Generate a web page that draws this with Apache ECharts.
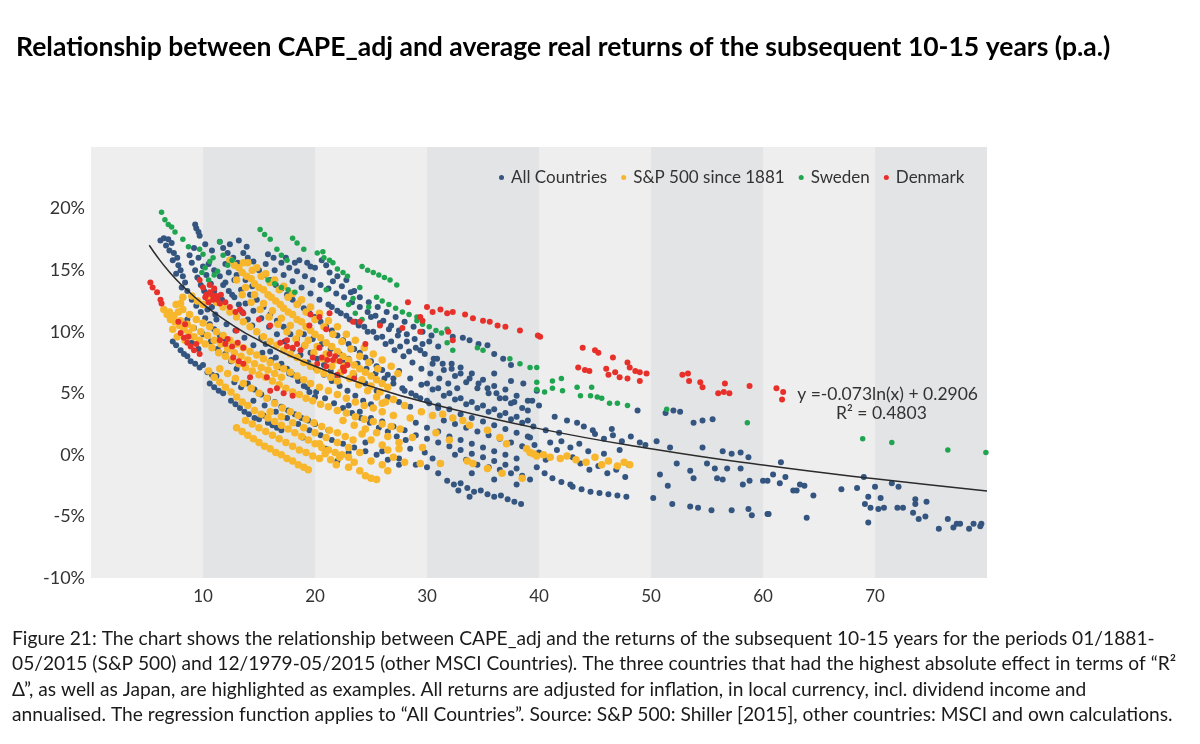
<!DOCTYPE html>
<html lang="en">
<head>
    <meta charset="UTF-8">
    <title>CAPE_adj vs. real returns</title>
    <style>
        html, body { margin: 0; padding: 0; background: #fff; }
        #main { width: 1200px; height: 744px; }
    </style>
</head>
<body>
<div id="main"></div>
<script src="https://cdn.jsdelivr.net/npm/echarts@6/dist/echarts.min.js"></script>
<script>
    // CAPE_adj (x) vs. average real return p.a. in % (y)
    const allCountries = [
        [6.2,17.4],[6.5,17.6],[6.9,17.5],[7.2,17.2],[6.7,17.0],[7.0,16.6],[7.4,16.4],[7.7,16.0],[7.3,15.8],[7.8,15.4],[8.0,15.0],[7.6,14.7],[8.2,14.5],[8.4,14.0],[8.1,13.6],[8.6,13.3],
        [9.3,18.7],[9.4,18.4],[9.6,18.1],[9.7,17.8],
        [7.3,9.2],[7.6,8.9],[8.0,8.5],[8.3,8.2],[8.6,8.0],[8.9,7.6],[9.3,7.4],[9.7,7.1],[10.0,7.3],[10.4,6.7],[10.8,6.5],[11.2,6.4],[10.6,5.8],[11.0,5.5],[11.4,5.2],[11.8,5.0],[8.4,9.5],[9.0,9.1],[9.6,8.6],
        [13.3,3.8],[13.7,3.5],[14.1,3.3],[14.6,3.0],[15.0,2.9],[15.4,3.2],[15.8,2.6],[16.2,2.4],[16.6,2.2],[17.0,2.0],[18.9,1.4],[12.5,4.4],[12.9,4.1],
        [8.8,16.2],[9.0,15.6],[9.3,15.0],[9.5,14.4],[9.8,13.8],[10.1,13.3],[10.4,12.7],[10.8,12.0],[11.1,11.4],[9.0,12.6],[9.4,12.1],[9.8,11.6],[10.2,11.1],[10.6,10.6],[11.0,10.2],[11.5,9.7],[11.9,9.2],
        [8.6,11.0],[9.2,10.3],[10.0,9.8],[10.7,9.2],[11.3,8.6],[12.0,8.2],[12.5,7.6],[13.0,7.0],
        [10.5,15.5],[11.0,15.0],[11.5,14.5],[12.0,14.0],[12.3,13.3],[12.8,12.8],[13.2,12.2],[11.8,16.8],[12.2,16.4],[12.7,16.0],[13.1,15.6],[13.6,16.4],[14.0,16.0],[14.5,15.7],
        [11.5,17.3],[12.4,17.1],[13.2,17.4],[13.9,16.9],[12.0,15.5],[13.0,14.6],[13.8,14.2],[14.4,13.7],[12.6,13.0],[11.7,12.6],
        [9.2,16.8],[9.6,16.0],[10.0,15.3],[10.3,14.6],[10.7,13.9],[11.0,13.3],[11.4,12.8],[11.8,13.8],[12.3,14.8],[12.8,14.2],[13.4,13.4],[10.2,17.1],[10.8,16.6],
        [13.5,11.6],[14.0,11.0],[14.4,10.5],[14.8,10.0],[15.2,9.5],[15.6,9.0],[16.0,8.4],[16.5,7.9],[17.0,7.4],[17.5,7.0],[18.0,6.5],[18.5,6.0],[19.0,5.6],[19.5,5.1],[20.0,4.7],
        [13.8,12.3],[14.5,11.7],[15.2,11.1],[15.9,10.4],[16.6,9.8],[17.3,9.2],[18.0,8.6],[18.7,8.1],[19.4,7.5],[20.1,7.0],[20.8,6.5],[21.5,6.0],[22.2,5.6],[22.9,5.2],[23.6,4.8],[24.3,4.4],[25.0,4.1],
        [10.4,11.8],[11.2,11.0],[12.1,10.6],[12.9,10.1],[13.7,9.5],[14.5,8.9],[15.3,8.3],[16.1,7.7],[16.9,7.1],[17.7,6.6],[18.5,6.1],[19.3,5.5],[20.1,5.1],[20.9,4.6],[21.7,4.2],[22.5,3.8],[23.3,3.4],[24.1,3.0],[24.9,2.6],[25.7,2.2],[26.5,1.9],[27.3,1.5],[28.1,1.2],
        [14.2,13.0],[14.8,12.6],[15.4,12.0],[16.0,11.4],[16.6,10.9],[17.2,10.4],[17.8,9.8],[18.4,9.4],[19.0,8.8],[19.6,8.3],[20.2,7.8],[20.8,7.3],[21.4,6.8],[22.0,6.3],
        [19.0,9.8],[19.8,9.4],[20.6,9.0],[21.4,8.6],[22.2,8.2],[23.0,7.8],[23.8,7.4],[24.6,7.0],[25.4,6.6],[26.2,6.2],[27.0,5.8],[27.8,5.4],[28.6,5.0],[29.4,4.6],[30.2,4.2],[31.0,3.8],
        [15.0,15.0],[15.5,14.6],[16.0,14.2],[16.5,13.8],[17.0,13.5],[17.5,13.0],[18.0,12.6],[18.5,12.3],[19.0,11.9],[19.5,11.5],[20.0,11.2],[20.5,10.8],[21.0,10.4],[21.5,10.1],[22.0,9.7],[22.5,9.3],[23.0,9.0],[23.5,8.6],[24.0,8.3],[24.5,7.9],[25.0,7.6],[25.5,7.2],[26.0,6.9],[26.5,6.5],[27.0,6.2],
        [15.6,15.5],[16.4,15.0],[17.2,14.6],[18.0,14.1],[18.8,13.6],[19.6,13.1],[20.4,12.6],[21.2,12.2],[22.0,11.7],[22.8,11.3],[23.6,10.8],[24.4,10.4],[25.2,10.0],[26.0,9.6],[26.8,9.2],[27.6,8.8],[28.4,8.4],
        [16.3,16.0],[17.0,15.6],[17.7,15.2],[18.4,14.9],[19.1,14.5],[19.8,14.2],[20.5,13.8],[21.2,13.5],[21.9,13.1],[22.6,12.8],[23.3,12.4],[24.0,12.0],[24.7,11.6],[25.4,11.3],[26.1,10.9],[26.8,10.5],[27.5,10.1],[28.2,9.8],[28.9,9.4],[29.6,9.0],
        [15.8,16.3],[17.4,16.0],[18.2,15.6],[19.6,15.3],[20.6,15.8],[21.3,14.8],[22.0,14.5],[22.8,14.2],[21.6,14.1],[23.5,13.3],
        [18.6,15.8],[19.3,15.6],[20.0,15.2],[21.0,15.4],[22.4,13.7],[23.2,13.2],[24.0,12.8],[24.8,12.4],[25.6,12.0],[26.4,11.6],[27.2,11.2],[28.0,10.8],[28.8,10.4],[29.6,10.0],[30.4,9.7],
        [25.0,11.2],[25.8,10.7],[26.6,10.2],[27.4,9.7],[28.2,9.2],[29.0,8.7],[29.8,8.2],[30.6,7.8],[31.4,7.4],[32.2,7.0],[33.0,6.6],[33.8,6.2],[34.6,5.8],[35.4,5.4],[36.2,5.0],[37.0,4.6],[37.8,4.3],
        [12.8,5.9],[13.4,5.5],[14.0,5.8],[14.6,5.3],[15.2,4.9],[15.8,4.6],[16.4,4.3],[17.0,3.9],[17.6,3.6],[18.2,3.3],[18.8,3.0],[19.4,2.8],[20.0,2.5],[20.6,2.3],[21.2,2.0],
        [14.5,4.4],[15.5,4.0],[16.5,3.5],[17.5,3.0],[18.5,2.5],[19.5,2.0],[20.5,1.6],[21.5,1.2],[22.5,0.9],[23.5,0.6],[24.5,0.3],[25.5,0.0],[26.5,-0.4],[27.5,-0.8],
        [21.5,12.0],[22.3,11.5],[23.1,11.0],[23.9,10.5],[24.7,10.0],[25.5,9.5],[26.3,9.0],[27.1,8.5],[27.9,8.0],[28.7,7.5],[29.5,7.0],[30.3,6.6],[31.1,6.2],[31.9,5.8],[32.7,5.4],
        [22.5,7.5],[23.5,6.5],[24.5,5.8],[25.5,5.2],[26.5,4.7],[27.5,4.3],[28.5,3.9],[29.5,3.5],[30.5,3.2],[31.5,2.8],[32.5,2.5],[33.5,2.2],[34.5,1.9],[35.5,1.6],[36.5,1.3],[37.5,1.0],[38.5,0.7],
        [23.0,4.0],[24.0,3.5],[25.0,3.0],[26.0,2.7],[27.0,2.3],[28.0,2.0],[29.0,1.6],[30.0,1.3],[31.0,1.0],[32.0,0.7],[33.0,0.4],[34.0,0.1],[35.0,-0.2],[36.0,-0.5],[37.0,-0.8],[38.0,-1.1],
        [21.0,0.5],[22.0,-0.5],[23.0,0.2],[24.5,1.0],[26.0,0.3],[27.5,-0.3],[28.5,0.5],
        [27.5,6.8],[28.5,6.2],[29.5,5.7],[30.5,5.3],[31.5,4.8],[32.5,4.5],[33.5,4.1],[34.5,3.8],[35.5,3.5],[36.5,3.2],[37.5,2.9],[38.5,2.6],[39.5,2.3],
        [30.0,5.8],[31.0,5.4],[32.0,5.0],[33.0,4.6],[34.0,4.3],[35.0,4.0],[36.0,3.7],[37.0,3.4],[38.0,3.1],[39.0,2.8],
        [28.0,5.2],[29.0,4.8],[30.0,4.4],[31.0,4.0],[32.0,3.7],[33.0,3.3],[34.0,3.0],[35.0,2.7],[36.0,2.4],[37.0,2.1],[38.0,1.8],[39.0,1.5],
        [29.0,2.6],[30.0,2.2],[31.0,1.9],[32.0,1.5],[33.0,1.2],[34.0,0.9],[35.0,0.6],[36.0,0.3],[37.0,0.0],[38.0,-0.3],
        [32.5,0.0],[33.5,-0.4],[34.5,-0.8],[35.5,-1.0],[36.5,-1.2],[37.5,-1.5],[38.5,-1.7],[34.0,-1.5],[36.0,-2.0],[38.0,-2.4],[39.2,-2.0],
        [30.5,7.4],[31.5,6.9],[32.5,6.4],[33.5,5.9],[34.5,5.4],[35.5,5.0],[36.5,4.6],[37.5,4.2],[38.5,3.8],
        [30.9,7.8],[32.2,7.4],[33.0,7.1],[34.0,6.6],[35.0,6.1],[36.0,5.6],[37.0,5.3],[38.0,4.8],[39.0,4.4],[40.0,4.0],
        [29.4,8.5],[30.2,9.2],[31.0,8.8],[32.3,9.6],[33.2,9.5],[33.8,9.3],[34.6,9.0],[35.4,8.9],[36.0,8.2],[36.8,7.8],[37.5,7.3],[36.0,6.6],[37.5,6.0],[38.6,5.8],
        [31.8,-2.1],[32.4,-2.4],[33.0,-2.3],[33.6,-2.7],[34.2,-3.0],[34.8,-2.9],[35.4,-3.2],[36.0,-3.4],[36.6,-3.3],[37.2,-3.6],[37.8,-3.8],[38.4,-4.0],[32.8,-2.9],[33.8,-3.4],
        [29.0,-0.8],[30.0,-1.0],[30.5,-0.3],[31.0,-1.5],[29.8,0.2],
        [39.0,3.6],[39.4,4.4],[39.8,5.2],[41.4,3.1],[42.5,2.8],[43.4,2.6],[44.0,2.3],[44.8,2.0],[46.5,2.1],[48.8,3.6],
        [39.2,1.4],[39.6,0.8],[40.0,0.2],[40.6,-0.4],[41.0,1.0],[41.6,0.4],[42.0,1.1],[42.8,0.6],[43.6,0.9],[44.4,0.3],[45.0,1.7],[45.8,1.3],[46.6,1.6],[47.4,1.1],[48.2,1.5],[49.0,1.0],[49.5,0.8],[50.5,1.1],[51.7,0.6],
        [39.8,-1.0],[40.5,-1.5],[41.2,-1.9],[42.0,-2.2],[42.8,-2.4],[43.0,-2.6],[43.8,-2.8],[44.6,-3.0],[45.4,-3.1],[46.2,-3.2],[47.0,-3.3],[47.8,-3.4],
        [43.7,-0.7],[44.5,-1.2],[45.3,-0.9],[46.1,-1.5],[46.9,-1.2],[47.7,-1.8],[48.0,-0.8],[40.6,2.0],[41.8,1.8],[43.0,-0.2],[45.8,0.1],[47.2,0.4],
        [50.2,-3.5],[51.9,-4.0],[53.5,-4.2],[54.2,-4.3],[55.4,-4.5],[57.2,-4.5],[58.7,-4.4],[59.0,-4.9],
        [52.3,-0.7],[53.8,-1.9],[53.5,-1.3],[55.0,-0.7],[55.7,-1.1],[55.9,-1.9],[56.4,-2.0],[56.8,-1.1],[58.0,-1.1],[58.2,-2.4],[58.8,-2.1],[60.0,-2.1],[60.4,-4.8],
        [53.8,2.6],[54.6,2.8],[55.5,2.9],[54.6,0.6],[56.4,0.3],[57.2,0.1],[58.0,0.2],[58.7,-0.2],[51.3,3.4],[52.0,3.6],[52.6,3.5],[50.8,-1.6],[51.5,-2.5],
        [60.4,-2.1],[60.9,-1.6],[61.5,-2.3],[61.6,-0.6],[62.0,-1.8],[62.7,-2.9],[63.0,-2.9],[63.3,-2.4],[63.7,-2.5],[64.5,-3.3],[60.5,-4.8],[63.9,-5.1],
        [67.0,-2.8],[68.4,-2.7],[69.0,-1.8],[69.4,-3.4],[70.0,-2.6],[70.5,-3.5],[69.1,-4.0],[69.6,-4.3],[70.3,-4.4],[70.8,-4.3],[69.4,-5.5],
        [71.5,-2.3],[72.1,-2.6],[72.0,-4.3],[72.5,-4.3],[73.6,-3.6],[73.6,-4.0],[73.4,-4.7],[73.9,-5.2],[74.5,-5.0],[74.6,-3.8],
        [75.7,-6.0],[76.5,-5.2],[77.0,-5.9],[77.3,-5.6],[77.6,-5.6],[78.4,-6.0],[78.8,-5.6],[79.4,-5.8],[79.5,-5.6]
    ];

    const sp500 = [
        [6.5,11.8],[6.8,11.4],[7.1,11.0],[7.5,10.8],[7.9,10.5],[8.3,10.2],[8.7,9.9],[9.2,9.6],[9.7,9.3],[10.2,9.0],[10.8,8.7],[11.4,8.3],[12.0,8.0],[12.6,7.7],[13.2,7.4],[13.8,7.1],[14.4,6.8],[15.0,6.5],[15.6,6.3],[16.2,6.0],[16.8,5.7],[17.4,5.4],[18.0,5.1],[18.6,4.9],[19.2,4.6],[19.8,4.4],[20.5,4.1],[21.2,3.9],[22.0,3.6],[22.8,3.4],[23.6,3.1],[24.4,2.9],[25.2,2.7],[26.0,2.5],[26.8,2.3],[27.6,2.1],
        [7.6,12.2],[8.2,11.8],[8.8,11.4],[9.4,11.0],[10.0,10.7],[10.6,10.4],[11.2,10.0],[11.8,9.7],[12.4,9.3],[13.0,9.0],[13.6,8.7],[14.2,8.4],[14.8,8.1],[15.4,7.8],[16.0,7.5],[16.6,7.2],[17.2,7.0],[17.8,6.7],[18.4,6.4],[19.0,6.1],[19.6,5.8],[20.4,5.5],[21.2,5.2],[22.0,4.9],[22.8,4.6],[23.6,4.3],[24.4,4.0],[25.2,3.8],[26.0,3.5],
        [7.0,11.6],[7.4,11.3],[8.0,10.9],[8.6,10.6],[9.1,10.3],[9.8,10.0],[10.4,9.7],[11.0,9.3],[11.6,9.0],[12.2,8.6],[12.8,8.3],[13.4,8.0],[14.0,7.7],[14.6,7.4],[15.2,7.1],[15.8,6.9],[16.4,6.6],[17.0,6.3],
        [8.2,12.8],[8.0,12.3],[7.8,11.6],[7.3,10.2],[7.7,9.6],[8.4,9.3],
        [12.4,15.8],[12.8,15.4],[13.2,15.2],[13.5,14.8],[13.9,14.5],[14.3,14.3],[14.6,13.9],[15.0,13.6],[15.4,13.4],[15.8,13.0],[16.1,12.8],[16.5,12.5],[16.9,12.2],[17.2,11.9],[17.6,11.6],[18.0,11.4],[18.4,11.0],[18.8,10.8],[19.2,10.4],[19.6,10.1],[20.0,9.8],[20.5,9.5],[21.0,9.1],[21.5,8.8],[22.0,8.4],[22.5,8.0],[23.0,7.7],[23.5,7.3],[24.0,7.0],[24.5,6.7],[25.0,6.4],[25.5,6.1],[26.0,5.8],[26.5,5.5],
        [14.0,15.6],[14.8,15.2],[15.6,14.7],[16.4,14.2],[17.2,13.7],[18.0,13.1],[18.8,12.6],[19.6,12.0],[20.4,11.5],[21.2,10.9],[22.0,10.4],[22.8,9.8],[23.6,9.3],[24.4,8.7],[25.2,8.2],[26.0,7.7],[26.8,7.2],[27.4,6.6],
        [13.6,15.6],[14.4,15.0],[15.2,14.5],[16.0,14.0],[16.8,13.4],[17.6,12.8],[18.4,12.2],[19.2,11.6],[20.0,11.0],[20.8,10.4],[21.6,9.8],[22.4,9.2],[23.2,8.6],[24.0,8.0],[24.8,7.5],[25.6,7.0],
        [13.0,14.2],[13.8,13.6],[14.6,13.0],[15.4,12.3],[16.2,11.7],[17.0,11.1],[17.8,10.5],[18.6,9.9],[19.4,9.3],[20.2,8.8],[21.0,8.2],[21.8,7.7],[22.6,7.2],[23.4,6.6],[24.2,6.1],[25.0,5.6],[25.8,5.1],
        [13.5,13.0],[14.3,12.4],[15.1,11.8],[15.9,11.2],[16.7,10.6],[17.5,10.0],[18.3,9.4],[19.1,8.9],[19.9,8.3],[20.7,7.8],[21.5,7.2],[22.3,6.7],[23.1,6.2],[23.9,5.7],[24.7,5.2],[25.5,4.7],[26.3,4.3],
        [9.0,12.9],[9.5,12.5],[10.0,12.2],[10.6,12.8],[11.2,12.4],[11.8,12.0],[12.4,11.6],[13.0,11.2],[13.6,10.8],[14.2,10.4],[14.8,10.0],[15.4,9.6],[16.0,9.2],[16.6,8.9],[17.2,8.5],[17.8,8.2],[18.4,7.9],[19.0,7.5],[19.6,7.2],[20.2,6.9],[20.8,6.6],[21.4,6.3],[22.0,6.0],
        [10.5,6.8],[11.0,6.3],[11.5,5.9],[12.0,5.5],[12.5,5.1],[13.0,4.7],[13.5,4.3],[14.0,4.0],[14.6,3.6],[15.2,3.3],[15.8,3.0],[16.4,2.7],[17.0,2.4],[17.6,2.1],[18.2,1.8],[18.8,1.5],[19.4,1.2],[20.0,0.9],[20.6,0.6],[21.2,0.4],[21.8,0.2],[22.4,0.0],[23.0,-0.2],
        [11.5,7.0],[12.2,6.6],[12.9,6.2],[13.6,5.8],[14.3,5.4],[15.0,5.0],[15.7,4.6],[16.4,4.2],[17.1,3.8],[17.8,3.5],[18.5,3.2],[19.2,2.9],[19.9,2.6],[20.6,2.3],[21.3,2.0],[22.0,1.8],[22.7,1.5],[23.4,1.2],
        [13.0,2.2],[13.5,1.9],[14.0,1.6],[14.5,1.3],[15.0,1.0],[15.5,0.7],[16.0,0.5],[16.5,0.2],[17.0,0.0],[17.5,-0.3],[18.0,-0.5],[18.5,-0.8],[19.0,-1.0],[19.4,-1.2],
        [13.8,2.8],[14.4,2.5],[15.0,2.2],[15.6,1.9],[16.2,1.6],[16.8,1.3],[17.4,1.0],[18.0,0.7],[18.6,0.4],[19.2,0.2],[19.8,-0.1],[20.4,-0.3],
        [16.0,3.5],[17.0,3.1],[18.0,2.6],[19.0,2.2],[20.0,1.8],[21.0,1.4],[22.0,1.0],[23.0,0.6],
        [20.4,0.9],[20.9,0.1],[21.4,-0.4],[21.9,-0.8],[22.2,-0.2],[23.0,-1.0],[23.5,-0.6],[24.0,-1.3],[24.5,-1.7],[25.0,-1.9],[25.5,-2.0],[24.0,0.2],[25.0,-0.5],[26.0,-0.8],[26.5,-1.3],[27.0,-0.2],[27.5,0.5],[26.0,0.8],[25.0,1.2],[24.2,1.7],[26.5,1.5],[27.5,1.0],[28.0,-0.6],
        [22.5,2.8],[23.5,2.4],[24.5,2.1],[25.5,1.8],[26.5,0.4],[27.0,3.2],[26.0,4.2],
        [28.7,1.4],[29.6,0.6],[29.5,3.5],[30.5,3.2],[31.4,3.3],[32.3,3.0],[33.2,2.8],[33.8,2.4],[35.4,2.0],[36.5,1.4],[37.1,0.9],[29.4,-0.7],[31.2,-0.7],[33.6,-0.5],[34.1,-0.7],[35.4,-1.1],[36.7,-1.5],[38.5,-1.9],[38.9,0.5],[39.5,0.1],[30.8,1.8],[32.0,1.2],[27.0,4.5],[28.0,4.0],[28.5,3.0],
        [39.2,0.2],[39.8,-0.1],[40.4,0.0],[41.0,-0.2],[41.9,-0.3],[42.5,-0.1],[43.3,-0.4],[44.2,-0.6],[45.0,-0.2],[45.6,-0.8],[46.2,-0.5],[47.0,-0.9],[47.6,-0.6],[48.1,-0.8]
    ];

    const sweden = [
        [6.3,19.7],[6.6,19.1],[6.9,18.7],[7.2,18.5],[7.5,18.1],[8.2,17.5],[8.7,16.9],
        [9.7,16.7],[10.0,16.3],[10.6,15.7],[11.5,17.3],[11.3,14.9],[10.2,15.2],[10.9,16.0],[11.8,16.2],[12.2,15.4],[9.9,14.8],[10.5,14.2],[11.0,14.6],[12.6,15.8],
        [15.1,18.3],[15.5,17.9],[16.0,17.5],[16.6,16.7],[17.0,16.2],[17.5,15.8],[18.0,17.6],[18.4,17.2],[19.0,16.7],[20.2,16.4],[20.8,16.0],[21.3,15.8],
        [20.7,16.5],[21.6,15.6],[22.0,15.1],[22.5,14.8],[22.9,14.5],[24.2,15.3],[24.7,15.0],[25.2,14.8],[25.7,14.6],[26.2,14.4],[26.7,14.2],[27.3,13.8],
        [15.8,14.2],[16.4,13.9],[17.0,13.6],[17.6,13.4],[18.2,13.2],
        [21.0,13.4],[23.4,12.7],[24.0,13.6],[23.0,12.2],[23.6,11.5],[24.2,11.0],[24.8,12.0],[25.5,12.8],[26.0,12.5],[26.6,12.2],[27.2,11.9],[27.8,11.6],[28.4,11.4],[29.1,11.2],
        [29.1,10.9],[29.6,10.6],[30.2,10.4],[30.8,10.1],[31.3,9.9],[31.8,10.2],[31.8,9.1],[32.3,8.5],[34.5,8.7],[35.0,8.5],[37.4,7.8],[38.3,7.4],[39.2,7.1],[39.8,7.1],
        [39.8,5.9],[39.8,5.3],[40.5,5.1],[41.2,5.4],[42.1,5.2],[41.2,6.0],[42.0,6.2],[43.4,5.5],[43.7,4.8],[44.7,5.5],[44.6,4.8],[45.2,4.7],[45.6,4.6],[46.3,4.2],[47.0,4.2],[47.9,4.0],[51.4,3.7],[58.6,2.6],
        [68.9,1.3],[71.5,1.0],[76.5,0.4],[79.9,0.2]
    ];

    const denmark = [
        [5.3,14.0],[5.5,13.6],[5.9,13.2],[6.2,12.6],[6.3,12.3],
        [9.7,14.2],[10.0,13.6],[10.3,13.0],[10.6,13.2],[10.9,12.6],[11.2,12.9],[11.5,12.3],[10.5,12.4],[11.0,13.5],
        [10.2,12.8],[10.8,13.0],[11.3,12.6],[10.6,13.8],[11.6,13.0],[12.0,12.4],
        [12.4,12.0],[12.9,11.6],[13.3,11.8],[13.6,11.5],
        [8.0,9.9],[8.3,9.5],[8.6,9.1],[8.9,8.8],[9.2,8.5],[9.7,8.2],[8.4,10.6],[7.8,10.8],[9.4,9.0],[8.7,9.6],
        [11.5,9.3],[12.0,9.0],[12.6,8.8],[13.1,9.1],[13.6,8.7],[12.7,7.9],[13.2,7.6],[13.6,7.4],[13.0,10.1],[12.2,9.4],
        [14.2,6.3],[15.7,6.3],[16.0,5.2],[16.6,5.4],[17.2,5.0],[18.0,4.8],[17.5,9.3],[17.5,8.8],[18.0,8.7],[18.4,9.0],[18.7,8.5],[16.9,9.1],
        [19.8,7.9],[20.2,7.4],[20.4,8.7],[21.1,7.7],[21.6,7.7],[21.8,8.0],[22.5,7.1],[22.9,7.3],[20.6,7.9],[21.3,8.2],[22.2,7.6],[21.0,7.2],[22.6,6.8],
        [15.0,11.0],[16.0,10.5],[19.5,10.5],[21.0,10.2],[22.0,6.5],[23.5,6.2],[24.5,9.0],[19.6,11.4],[20.4,11.2],[21.3,11.5],
        [23.4,10.8],[24.0,10.8],[25.8,10.5],[27.8,10.3],[28.3,12.4],[29.4,11.2],[30.0,12.0],[30.5,11.6],[29.4,10.0],[29.6,10.9],[31.2,11.8],[31.8,11.5],[32.3,11.6],[33.4,11.4],[34.1,11.1],[35.0,10.9],[35.6,10.8],[36.3,10.5],[37.0,10.4],[38.3,10.1],[39.9,9.7],[31.9,10.0],[32.3,9.3],
        [40.1,9.6],[43.9,8.7],[45.0,8.5],[45.3,8.3],[46.6,7.9],[47.9,7.5],[43.5,7.1],[44.1,6.9],[44.5,6.8],[46.0,7.0],[46.2,6.5],[46.8,6.7],[47.2,6.3],[48.1,7.1],[48.6,6.8],[49.0,6.7],[47.9,6.2],[49.0,6.0],[49.6,6.6],
        [52.8,6.5],[53.3,6.6],[53.4,6.0],[54.4,5.9],[54.6,5.5],[56.0,5.0],[56.5,5.1],[57.0,5.0],[56.6,5.8],[58.8,5.6],
        [61.2,5.4],[61.8,5.1],[61.7,4.5]
    ];

    // log trend for All Countries, y = -0.073 ln(x) + 0.2906 (in %)
    const fitCurve = [
        [5.2,17.02],[6,15.98],[7,14.85],[8,13.88],[10,12.25],[12,10.92],[15,9.29],[20,7.19],
        [25,5.56],[30,4.23],[40,2.13],[50,0.50],[60,-0.83],[70,-1.95],[80,-2.93]
    ];

    const seriesNames = ['All Countries', 'S&P 500 since 1881', 'Sweden', 'Denmark'];
    const seriesColors = ['#33557f', '#f7b62c', '#1fa450', '#e8302a'];

    const captionLines = [
        'Figure 21: The chart shows the relationship between CAPE_adj and the returns of the subsequent 10-15 years for the periods 01/1881-',
        '05/2015 (S&P 500) and 12/1979-05/2015 (other MSCI Countries). The three countries that had the highest absolute effect in terms of \u201cR\u00b2',
        '\u0394\u201d, as well as Japan, are highlighted as examples. All returns are adjusted for inflation, in local currency, incl. dividend income and',
        'annualised. The regression function applies to \u201cAll Countries\u201d. Source: S&P 500: Shiller [2015], other countries: MSCI and own calculations.'
    ];

    const FONT = 'Lato, "Open Sans", sans-serif';
    const chart = echarts.init(document.getElementById('main'), null, {renderer: 'canvas'});

    const graphics = captionLines.map(function (line, i) {
        return {
            type: 'text', left: 12, top: 629 + i * 25.6,
            style: {text: line, font: '19.2px ' + FONT, fill: '#1a1a1a'}
        };
    });
    graphics.push({
        type: 'text', right: 222, top: 385, z: 100,
        style: {text: 'y =-0.073ln(x) + 0.2906', font: '17.5px ' + FONT, fill: '#333'}
    });
    graphics.push({
        type: 'text', left: 836, top: 404, z: 100,
        style: {text: 'R\u00b2 = 0.4803', font: '17.5px ' + FONT, fill: '#333'}
    });

    const scatterData = [allCountries, sp500, sweden, denmark];
    const sizes = [6, 7.5, 5.5, 6];
    const series = scatterData.map(function (d, i) {
        return {
            name: seriesNames[i], type: 'scatter', data: d,
            symbolSize: sizes[i], itemStyle: {color: seriesColors[i], opacity: 1},
            silent: true, z: 2 + i
        };
    });
    series.push({
        name: 'fit', type: 'line', data: fitCurve, smooth: true, showSymbol: false,
        lineStyle: {color: '#2b2b2b', width: 1.5}, silent: true, z: 10
    });

    const option = {
        backgroundColor: '#fff',
        animation: false,
        title: {
            text: 'Relationship between CAPE_adj and average real returns of the subsequent 10-15 years (p.a.)',
            left: 11, top: 29,
            textStyle: {fontFamily: FONT, fontWeight: 'bold', fontSize: 26.5, color: '#000'}
        },
        legend: {
            data: seriesNames, left: 494, top: 164, selectedMode: false,
            icon: 'circle', itemWidth: 5, itemHeight: 5, itemGap: 14,
            textStyle: {fontFamily: FONT, fontSize: 17, color: '#333', padding: [0, 0, 0, 2]}
        },
        grid: {left: 91, right: 213, top: 147, bottom: 166, containLabel: false},
        xAxis: {
            type: 'value', min: 0, max: 80, interval: 10,
            axisLine: {show: false}, axisTick: {show: false},
            axisLabel: {
                showMinLabel: false, showMaxLabel: false, margin: 10,
                fontFamily: FONT, fontSize: 17, color: '#333'
            },
            splitLine: {show: false},
            splitArea: {show: true, areaStyle: {color: ['#eeeeee', '#e3e4e6']}}
        },
        yAxis: {
            type: 'value', min: -10, max: 25, interval: 5,
            axisLine: {show: false}, axisTick: {show: false},
            axisLabel: {
                showMaxLabel: false, margin: 6, formatter: '{value}%',
                fontFamily: FONT, fontSize: 18, color: '#333'
            },
            splitLine: {show: true, lineStyle: {color: 'rgba(255,255,255,0.55)', width: 1}}
        },
        graphic: graphics,
        series: series
    };

    chart.setOption(option);
</script>
</body>
</html>
